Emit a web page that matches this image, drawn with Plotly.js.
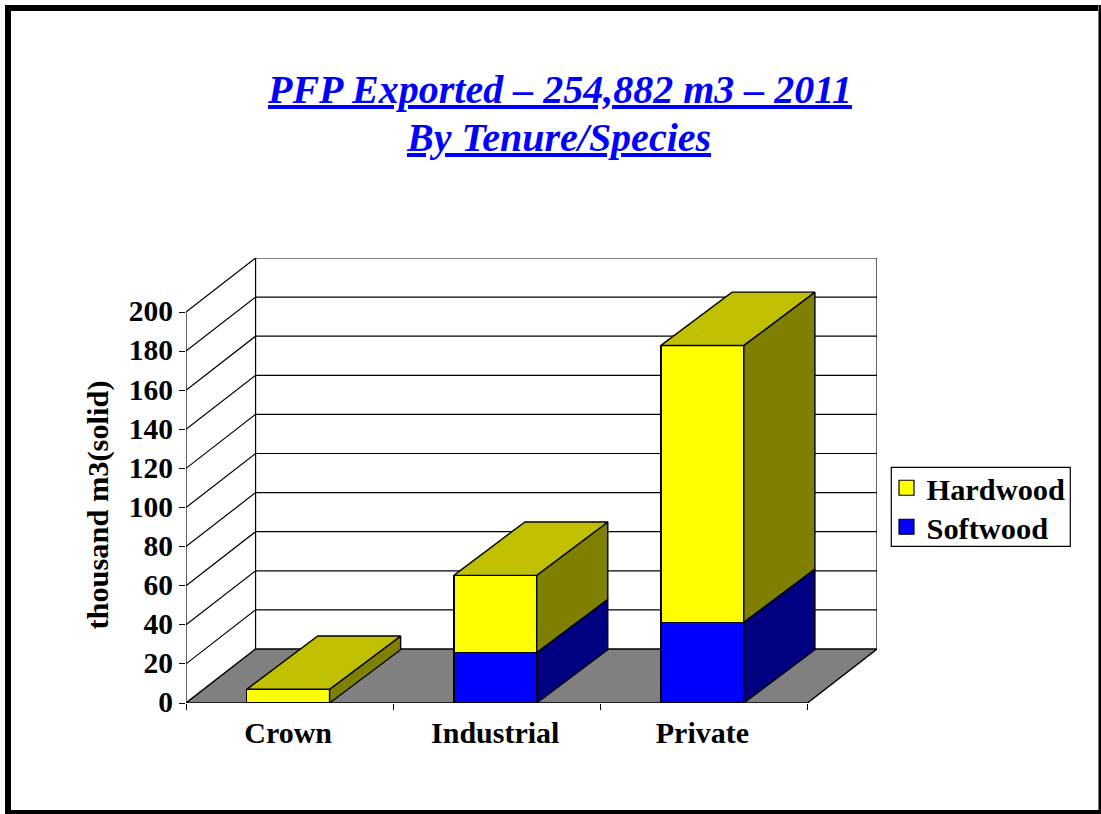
<!DOCTYPE html>
<html><head><meta charset="utf-8">
<script src="https://cdn.plot.ly/plotly-3.0.1.min.js"></script>
<style>
html,body{margin:0;padding:0;background:#fff;}
#chart{width:1101px;height:814px;position:absolute;left:0;top:0;}
#frame{position:absolute;left:5px;top:5px;width:1096px;height:6px;background:#000;pointer-events:none;}
#frameL{position:absolute;left:5px;top:5px;width:6px;height:809px;background:#000;pointer-events:none;}
#frameR{position:absolute;left:1098px;top:5px;width:3px;height:809px;background:#000;border-left:1px solid #777;box-sizing:border-box;pointer-events:none;}
#frameB{position:absolute;left:5px;top:810px;width:1096px;height:4px;background:#000;pointer-events:none;}
</style></head><body>
<div id="chart"></div><div id="frame"></div><div id="frameL"></div><div id="frameR"></div><div id="frameB"></div>
<script>
const categories = ['Crown','Industrial','Private'];
const softwood = [0, 25.8, 41.3];
const hardwood = [7, 39.5, 141.6];
const yTicks = [0,20,40,60,80,100,120,140,160,180,200];
const centers = [-0.007,0.993,1.993];
const boundaries = [-0.5,0.5,1.5,2.5];
const barWidth = 0.4;
const pxX = 206.9, pxY = 1.955;
const depthX = 69.5/pxX, depthY = 54/pxY;         // wall depth
const barDepthX = 71/pxX, barDepthY = 53.3/pxY;   // bar depth
const F = 'Liberation Serif';

const xL = boundaries[0], xR = boundaries[3], yTop = yTicks[yTicks.length-1];
const barLine = {color:'#000',width:1.4};

function seg(xs,ys,x,y){ xs.push(...x,null); ys.push(...y,null); }

const gx=[],gy=[];
yTicks.forEach(v=>{
  if(v===0) return;
  seg(gx,gy,[xL,xL+depthX,xR+depthX],[v,v+depthY,v+depthY]);
});
seg(gx,gy,[xL,xL],[0,yTop]);
seg(gx,gy,[xL+depthX,xL+depthX],[depthY,yTop+depthY]);
seg(gx,gy,[xR+depthX,xR+depthX],[depthY,yTop+depthY]);

const floorTrace = {x:[xL,xR,xR+depthX,xL+depthX,xL],y:[0,0,depthY,depthY,0],mode:'lines',fill:'toself',fillcolor:'#808080',line:barLine,showlegend:false,hoverinfo:'skip',xaxis:'x',yaxis:'y'};
const gridTrace = {x:gx,y:gy,mode:'lines',line:{color:'#000',width:1.2},showlegend:false,hoverinfo:'skip',connectgaps:false,xaxis:'x',yaxis:'y'};

const softBar = {type:'bar',name:'Softwood',x:centers,y:softwood,width:barWidth,marker:{color:'#0000FF',line:barLine},showlegend:false,xaxis:'x2',yaxis:'y2'};
const hardBar = {type:'bar',name:'Hardwood',x:centers,y:hardwood,width:barWidth,marker:{color:'#FFFF00',line:barLine},showlegend:false,xaxis:'x2',yaxis:'y2'};

function sideFace(lows,highs,color){
  const xs=[],ys=[];
  centers.forEach((c,i)=>{
    if(highs[i]-lows[i]<=0) return;
    const r=c+barWidth/2;
    seg(xs,ys,[r,r+barDepthX,r+barDepthX,r,r],[lows[i],lows[i]+barDepthY,highs[i]+barDepthY,highs[i],lows[i]]);
  });
  return {x:xs,y:ys,mode:'lines',fill:'toself',fillcolor:color,line:barLine,showlegend:false,hoverinfo:'skip',xaxis:'x2',yaxis:'y2'};
}
const totals = softwood.map((s,i)=>s+hardwood[i]);
const zero = softwood.map(()=>0);
const softSide = sideFace(zero,softwood,'#000080');
const hardSide = sideFace(softwood,totals,'#808000');
const tx=[],ty=[];
centers.forEach((c,i)=>{
  const l=c-barWidth/2,r=c+barWidth/2,t=totals[i];
  seg(tx,ty,[l,r,r+barDepthX,l+barDepthX,l],[t,t,t+barDepthY,t+barDepthY,t]);
});
const topFace = {x:tx,y:ty,mode:'lines',fill:'toself',fillcolor:'#C0C000',line:barLine,showlegend:false,hoverinfo:'skip',xaxis:'x2',yaxis:'y2'};

const legendMarker = (name,color,legend)=>({name,legend,x:[null],y:[null],mode:'markers',marker:{symbol:'square',size:15,color,line:{color:'#000',width:1.2}},xaxis:'x2',yaxis:'y2',hoverinfo:'skip'});
const legendCommon = {xref:'container',yref:'container',xanchor:'left',yanchor:'middle',bgcolor:'rgba(0,0,0,0)',borderwidth:0,indentation:-3,
  font:{family:F,size:30.4,color:'#000',weight:'bold'}};

const xr=[xL,xR+depthX], yr=[0,yTop+depthY];
const plotW = 691, plotH = 445, plotL = 185.7, plotB = 702.7;
const titleFont = {family:F,size:40,color:'#0000FF',lineposition:'under'};
const layout = {
  width:1101,height:814,
  paper_bgcolor:'#fff',plot_bgcolor:'rgba(0,0,0,0)',
  margin:{l:plotL,r:1101-plotL-plotW,t:814-111.3-plotH,b:111.3,autoexpand:false},
  barmode:'stack',
  showlegend:true,
  title:{text:'<b><i>PFP Exported – 254,882 m3 – 2011</i></b>',x:560/1101,xanchor:'center',xref:'container',y:1-89/814,yanchor:'middle',yref:'container',
    font:titleFont},
  xaxis:{range:xr,tickmode:'array',tickvals:centers,ticktext:categories,ticks:'',ticklabelstandoff:9,showgrid:false,zeroline:false,showline:false,
    minor:{tickmode:'array',tickvals:boundaries,ticks:'outside',ticklen:6,tickcolor:'#000',tickwidth:1,showgrid:false},
    tickfont:{family:F,size:30,color:'#000',weight:'bold'}},
  yaxis:{range:yr,tickmode:'array',tickvals:yTicks,ticks:'outside',ticklen:6,tickcolor:'#000',tickwidth:1,showgrid:false,zeroline:false,showline:false,ticklabelshift:-1,
    tickfont:{family:F,size:29.5,color:'#000',weight:'bold'}},
  xaxis2:{range:xr,overlaying:'x',visible:false},
  yaxis2:{range:yr,overlaying:'y',visible:false},
  annotations:[
   {text:'thousand m3(solid)',textangle:-90,xref:'paper',yref:'paper',x:(98-plotL)/plotW,y:(plotB-505)/plotH,xanchor:'center',yanchor:'middle',showarrow:false,
    font:{family:F,size:30.4,color:'#000',weight:'bold'}},
   {text:'<b><i>By Tenure/Species</i></b>',xref:'paper',yref:'paper',x:(558.5-plotL)/plotW,y:(plotB-137)/plotH,xanchor:'center',yanchor:'middle',showarrow:false,font:titleFont}
  ],
  shapes:[{type:'rect',xref:'paper',yref:'paper',x0:(891-plotL)/plotW,x1:(1070-plotL)/plotW,y0:(plotB-546)/plotH,y1:(plotB-467)/plotH,line:{color:'#000',width:1.2},fillcolor:'rgba(0,0,0,0)',layer:'below'}],
  legend:Object.assign({x:889.5/1101,y:1-488/814},legendCommon),
  legend2:Object.assign({x:889.5/1101,y:1-527/814},legendCommon)
};
Plotly.newPlot('chart',[floorTrace,gridTrace,softBar,hardBar,softSide,hardSide,topFace,legendMarker('Hardwood','#FFFF00','legend'),legendMarker('Softwood','#0000FF','legend2')],layout,{displayModeBar:false,staticPlot:true});
</script></body></html>
